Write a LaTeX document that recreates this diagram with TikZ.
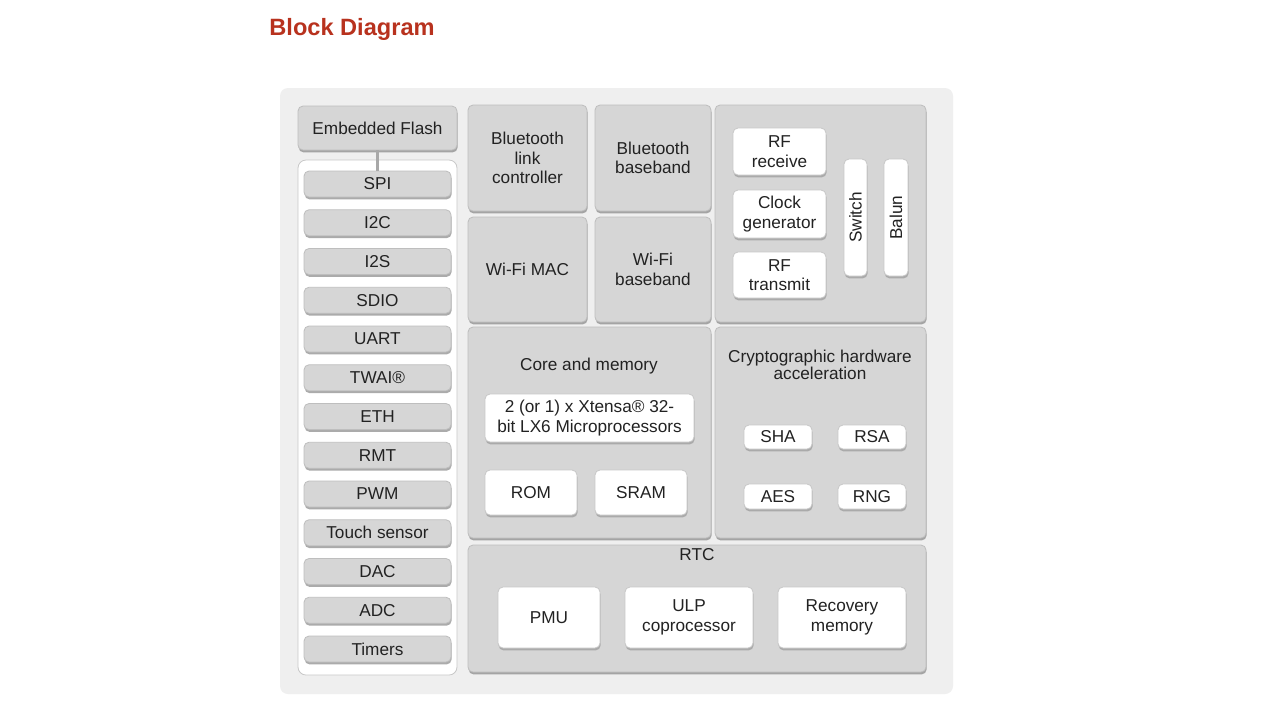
\documentclass[tikz,border=0pt]{standalone}
\usepackage{fontspec}
\setmainfont{Liberation Sans}
\usetikzlibrary{shadows}
\definecolor{panelbg}{HTML}{EFEFEF}
\definecolor{boxgray}{HTML}{D6D6D6}
\definecolor{boxedge}{HTML}{BEBEBE}
\definecolor{whiteedge}{HTML}{C8C8C8}
\definecolor{titlered}{HTML}{B8321E}
\definecolor{txt}{HTML}{222222}
\definecolor{linkgray}{HTML}{A8A8A8}
\tikzset{
  gbox/.style={rounded corners=2.5pt, fill=boxgray, draw=boxedge, line width=0.4pt,
    drop shadow={shadow xshift=0.3pt, shadow yshift=-1.2pt, opacity=0.6, fill=black!55},
    align=center, font=\fontsize{8.6}{9.8}\selectfont, text=txt},
  wbox/.style={rounded corners=2.5pt, fill=white, draw=whiteedge, line width=0.4pt,
    drop shadow={shadow xshift=0.3pt, shadow yshift=-1.2pt, opacity=0.5, fill=black!50},
    align=center, font=\fontsize{8.6}{9.8}\selectfont, text=txt},
  lbl/.style={align=center, font=\fontsize{8.6}{8.2}\selectfont, text=txt, inner sep=0pt},
}
% #1 style, #2 name, #3,#4 top-left, #5,#6 bottom-right (px), #7 text
\newcommand\bx[7]{%
  \pgfmathsetmacro\cx{(#3+#5)/2}\pgfmathsetmacro\cy{(#4+#6)/2}%
  \pgfmathsetmacro\ww{(#5-#3)*0.5}\pgfmathsetmacro\hh{(#6-#4)*0.5}%
  \node[#1, minimum width=\ww pt, minimum height=\hh pt, inner sep=0pt] (#2) at (\cx,\cy) {#7};}
\begin{document}
\begin{tikzpicture}[x=0.5pt,y=-0.5pt]
\useasboundingbox[fill=white] (0,0) rectangle (1280,720);
% title
\node[anchor=west, font=\bfseries\fontsize{11.8}{12}\selectfont, text=titlered, inner sep=0pt] (title) at (269,29) {Block Diagram};
% outer panel
\bx{fill=panelbg, rounded corners=4pt}{panel}{280}{88}{953}{694}{}
% left column
\bx{gbox}{flash}{298}{106}{457}{150}{Embedded Flash}
\bx{fill=white, draw=whiteedge, rounded corners=4pt}{col}{298}{160}{457}{675}{}
\foreach \n/\t [count=\i from 0] in {spi/SPI, itc/I2C, its/I2S, sdio/SDIO, uart/UART, twai/TWAI®, eth/ETH, rmt/RMT, pwm/PWM, touch/Touch sensor, dac/DAC, adc/ADC, timers/Timers}{
  \pgfmathsetmacro\ya{171+38.75*\i}
  \pgfmathsetmacro\yb{\ya+26}
  \bx{gbox}{\n}{304}{\ya}{451}{\yb}{\t}
}
\draw[linkgray, line width=1.2pt] (flash.south) -- (spi.north);
% radio blocks
\bx{gbox}{btlc}{468}{105}{587}{211}{Bluetooth\\link\\controller}
\bx{gbox}{btbb}{595}{105}{711}{211}{Bluetooth\\baseband}
\bx{gbox}{wmac}{468}{217}{587}{322}{Wi-Fi MAC}
\bx{gbox}{wbb}{595}{217}{711}{322}{Wi-Fi\\baseband}
\bx{gbox}{rf}{715}{105}{926}{322}{}
\bx{wbox}{rfrx}{733}{128}{826}{175}{RF\\receive}
\bx{wbox}{clk}{733}{190}{826}{238}{Clock\\generator}
\bx{wbox}{rftx}{733}{252}{826}{298}{RF\\transmit}
\bx{wbox}{sw}{844}{159}{867}{276}{}
\node[lbl, rotate=90] (swt) at (sw.center) {Switch};
\bx{wbox}{bal}{884}{159}{908}{276}{}
\node[lbl, rotate=90] (balt) at (bal.center) {Balun};
% core and memory
\bx{gbox}{core}{468}{327}{711}{538}{}
\node[lbl] (coret) at (589,366) {Core and memory};
\bx{wbox}{cpu}{485}{394}{694}{442}{2 (or 1) x Xtensa® 32-\\bit LX6 Microprocessors}
\bx{wbox}{rom}{485}{470}{577}{515}{ROM}
\bx{wbox}{sram}{595}{470}{687}{515}{SRAM}
% crypto
\bx{gbox}{crypto}{715}{327}{926}{538}{}
\node[lbl] (cryptot) at (820,365) {Cryptographic hardware\\acceleration};
\bx{wbox}{sha}{744}{425}{812}{449}{SHA}
\bx{wbox}{rsa}{838}{425}{906}{449}{RSA}
\bx{wbox}{aes}{744}{484}{812}{509}{AES}
\bx{wbox}{rng}{838}{484}{906}{509}{RNG}
% RTC
\bx{gbox}{rtc}{468}{545}{926}{672}{}
\node[lbl] (rtct) at (697,555) {RTC};
\bx{wbox}{pmu}{498}{587}{600}{648}{PMU}
\bx{wbox}{ulp}{625}{587}{753}{648}{ULP\\coprocessor}
\bx{wbox}{rec}{778}{587}{906}{648}{Recovery\\memory}
\end{tikzpicture}
\end{document}
